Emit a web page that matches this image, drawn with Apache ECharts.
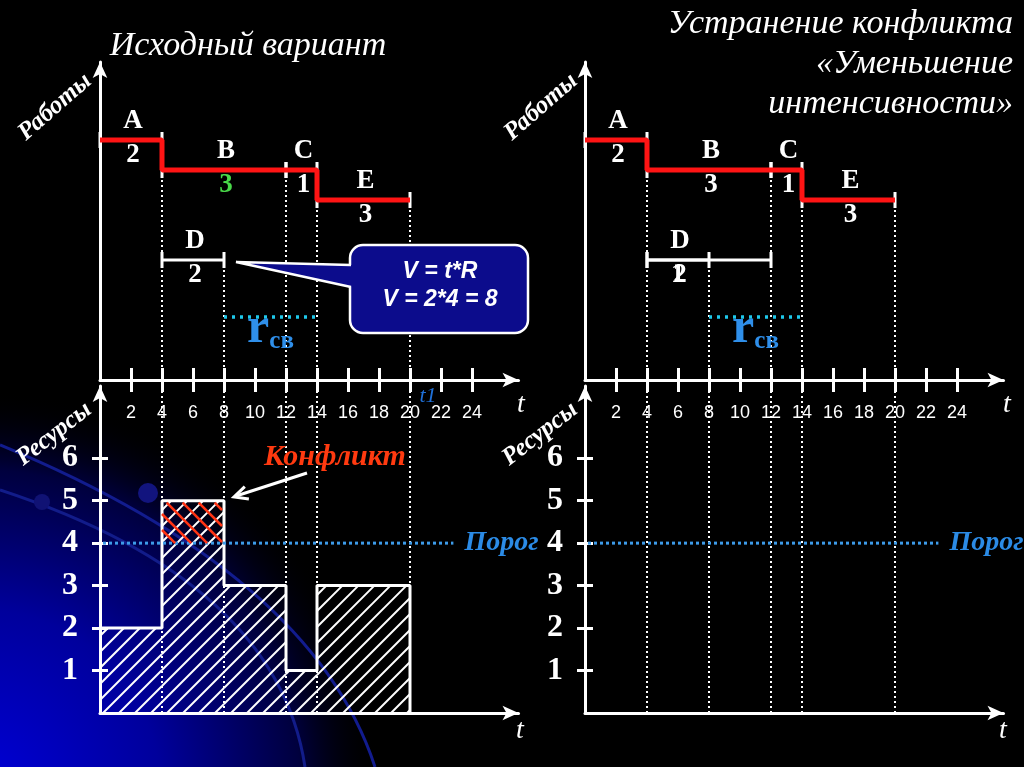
<!DOCTYPE html>
<html>
<head>
<meta charset="utf-8">
<script src="https://cdn.jsdelivr.net/npm/echarts@6.0.0/dist/echarts.min.js"></script>
<style>
html, body { margin: 0; padding: 0; background: #000; }
#chart { width: 1024px; height: 767px; }
</style>
</head>
<body>
<div id="chart"></div>
<script>
// time axis ticks (both charts)
const timeTicks = [2, 4, 6, 8, 10, 12, 14, 16, 18, 20, 22, 24];
const resourceTicks = [1, 2, 3, 4, 5, 6];

// works (Gantt rows)
const taskNames = ['A', 'B', 'C', 'D', 'E'];
const taskStart = [0, 4, 12, 4, 14];
const taskEnd = [4, 12, 14, 8, 20];
const taskRes = [2, 3, 1, 2, 3];
const taskRow = [8, 7, 7, 4, 6];
const criticalPath = ['A', 'B', 'C', 'E'];

// "reduce intensity": D gets 1 resource and lasts until 12
const reducedTask = 'D';
const reducedEnd = 12;
const reducedRes = 1;

// event lines: time and the row where the dotted line starts
const eventTimes = [4, 8, 12, 14, 20];
const eventRows = [7, 4, 7, 6, 6];

// resource profile of the original plan
const loadStart = [0, 4, 8, 12, 14];
const loadEnd = [4, 8, 12, 14, 20];
const loadValue = [2, 5, 3, 1, 3];

// threshold ("Порог")
const threshold = 4;
const thresholdEnd = 22.8;

// free resource interval r_св
const freeStart = 8;
const freeEnd = 14;
const freeRow = 2.1;

const X_MAX = 27, UP_MAX = 10.6, LOW_MAX = 7.7;
const W = 418.5;
const SERIF = '"Liberation Serif", "DejaVu Serif", serif';
const SANS = '"Liberation Sans", Arial, sans-serif';

const chart = echarts.init(document.getElementById('chart'));

function mainX(grid, withTicks) {
    return {
        type: 'value', gridIndex: grid, min: 0, max: X_MAX, position: 'bottom',
        axisLine: { show: true, onZero: false, lineStyle: { color: '#fff', width: 3 }, symbol: ['none', 'arrow'], symbolSize: [11, 16] },
        axisTick: withTicks ? { show: true, customValues: timeTicks, length: 12, lineStyle: { color: '#fff', width: 3 } } : { show: false },
        axisLabel: withTicks ? { show: true, customValues: timeTicks, margin: 24, color: '#fff', fontSize: 18, fontFamily: SANS } : { show: false },
        splitLine: { show: false }
    };
}
function innerX(grid) {
    return {
        type: 'value', gridIndex: grid, min: 0, max: X_MAX, position: 'bottom',
        axisLine: { show: false, onZero: false },
        axisTick: { show: true, inside: true, customValues: timeTicks, length: 12, lineStyle: { color: '#fff', width: 3 } },
        axisLabel: { show: false }, splitLine: { show: false }
    };
}
function upperY(grid) {
    return {
        type: 'value', gridIndex: grid, min: 0, max: UP_MAX, position: 'left',
        axisLine: { show: true, onZero: false, lineStyle: { color: '#fff', width: 3 }, symbol: ['none', 'arrow'], symbolSize: [11, 16] },
        axisTick: { show: false }, axisLabel: { show: false }, splitLine: { show: false }
    };
}
function lowerY(grid) {
    return {
        type: 'value', gridIndex: grid, min: 0, max: LOW_MAX, position: 'left',
        axisLine: { show: true, onZero: false, lineStyle: { color: '#fff', width: 3 }, symbol: ['none', 'arrow'], symbolSize: [11, 16] },
        axisTick: { show: true, customValues: resourceTicks, length: 8, lineStyle: { color: '#fff', width: 3 } },
        axisLabel: { show: true, customValues: resourceTicks, margin: 22, color: '#fff', fontSize: 32, fontWeight: 'bold', fontFamily: SERIF },
        splitLine: { show: false }
    };
}
function lowerYInner(grid) {
    return {
        type: 'value', gridIndex: grid, min: 0, max: LOW_MAX, position: 'left',
        axisLine: { show: false, onZero: false },
        axisTick: { show: true, inside: true, customValues: resourceTicks, length: 8, lineStyle: { color: '#fff', width: 3 } },
        axisLabel: { show: false }, splitLine: { show: false }
    };
}

const sides = [
    { up: { x: 0, y: 0 }, low: { x: 2, y: 1 } },
    { up: { x: 3, y: 3 }, low: { x: 5, y: 4 } }
];

const dotWhite = { stroke: '#fff', lineWidth: 2, lineDash: [2, 3] };

function segments(ax, data, style, z) {
    return {
        type: 'custom', xAxisIndex: ax.x, yAxisIndex: ax.y, z: z, silent: true, data: data,
        renderItem(params, api) {
            const a = api.coord([api.value(0), api.value(1)]);
            const b = api.coord([api.value(2), api.value(3)]);
            return { type: 'line', shape: { x1: a[0], y1: a[1], x2: b[0], y2: b[1] }, style: Object.assign({ fill: null }, style) };
        }
    };
}

function taskBars(ax, starts, ends, rows) {
    const st = { stroke: '#fff', lineWidth: 3 };
    return {
        type: 'custom', xAxisIndex: ax.x, yAxisIndex: ax.y, z: 3, silent: true,
        data: starts.map((s, i) => [s, ends[i], rows[i]]),
        renderItem(params, api) {
            const a = api.coord([api.value(0), api.value(2)]);
            const b = api.coord([api.value(1), api.value(2)]);
            return {
                type: 'group', children: [
                    { type: 'line', shape: { x1: a[0], y1: a[1], x2: b[0], y2: b[1] }, style: st },
                    { type: 'line', shape: { x1: a[0], y1: a[1] - 8, x2: a[0], y2: a[1] + 8 }, style: st },
                    { type: 'line', shape: { x1: b[0], y1: b[1] - 8, x2: b[0], y2: b[1] + 8 }, style: st }
                ]
            };
        }
    };
}

function taskLabels(ax, mids, rows, names, texts, colors) {
    return {
        type: 'custom', xAxisIndex: ax.x, yAxisIndex: ax.y, z: 6, silent: true,
        data: mids.map((m, i) => [m, rows[i]]),
        renderItem(params, api) {
            const i = params.dataIndex;
            const p = api.coord([api.value(0), api.value(1)]);
            const kids = [];
            if (names[i]) {
                kids.push({ type: 'text', x: p[0] + 2, y: p[1] - 19, style: { text: names[i], fill: '#fff', font: 'bold 27px ' + SERIF, align: 'center', verticalAlign: 'middle' } });
            }
            kids.push({ type: 'text', x: p[0] + 2, y: p[1] + 15, style: { text: String(texts[i]), fill: colors[i], font: 'bold 27px ' + SERIF, align: 'center', verticalAlign: 'middle' } });
            return { type: 'group', children: kids };
        }
    };
}

function criticalLine(ax) {
    const pts = [];
    criticalPath.forEach(n => {
        const i = taskNames.indexOf(n);
        pts.push([taskStart[i], taskRow[i]], [taskEnd[i], taskRow[i]]);
    });
    return {
        type: 'line', xAxisIndex: ax.x, yAxisIndex: ax.y, z: 5, silent: true, data: pts,
        symbol: 'none', lineStyle: { color: '#ff1414', width: 5 }, animation: false
    };
}

function freeResource(ax) {
    return {
        type: 'custom', xAxisIndex: ax.x, yAxisIndex: ax.y, z: 4, silent: true,
        data: [[freeStart, freeEnd, freeRow]],
        renderItem(params, api) {
            const a = api.coord([api.value(0), api.value(2)]);
            const b = api.coord([api.value(1), api.value(2)]);
            return {
                type: 'group', children: [
                    { type: 'line', shape: { x1: a[0], y1: a[1], x2: b[0], y2: b[1] }, style: { stroke: '#1ec8ea', lineWidth: 3.5, lineDash: [3, 5] } },
                    {
                        type: 'text', x: (a[0] + b[0]) / 2, y: a[1] + 37,
                        style: {
                            text: '{r|r}{s|св}', align: 'center', verticalAlign: 'bottom',
                            rich: {
                                r: { fill: '#2f8fea', fontSize: 50, fontWeight: 'bold', fontFamily: SERIF, verticalAlign: 'bottom' },
                                s: { fill: '#2f8fea', fontSize: 25, fontWeight: 'bold', fontFamily: SERIF, verticalAlign: 'bottom' }
                            }
                        }
                    }
                ]
            };
        }
    };
}

function hatch(x0, y0, x1, y1, step, dir, style) {
    const out = [];
    if (dir > 0) {
        for (let c = Math.ceil((x0 + y0) / step) * step; c <= x1 + y1; c += step) {
            const xa = Math.max(x0, c - y1), xb = Math.min(x1, c - y0);
            if (xb - xa < 0.5) continue;
            out.push({ type: 'line', shape: { x1: xa, y1: c - xa, x2: xb, y2: c - xb }, style: style });
        }
    } else {
        for (let c = Math.ceil((x0 - y1) / step) * step; c <= x1 - y0; c += step) {
            const xa = Math.max(x0, c + y0), xb = Math.min(x1, c + y1);
            if (xb - xa < 0.5) continue;
            out.push({ type: 'line', shape: { x1: xa, y1: xa - c, x2: xb, y2: xb - c }, style: style });
        }
    }
    return out;
}

function threshLine(ax) {
    return {
        type: 'custom', xAxisIndex: ax.x, yAxisIndex: ax.y, z: 7, silent: true,
        data: [[0, thresholdEnd, threshold]],
        renderItem(params, api) {
            const a = api.coord([api.value(0), api.value(2)]);
            const b = api.coord([api.value(1), api.value(2)]);
            return {
                type: 'group', children: [
                    { type: 'line', shape: { x1: a[0] + 3, y1: a[1], x2: b[0], y2: b[1] }, style: { stroke: '#3d9be9', lineWidth: 3, lineDash: [3, 3] } },
                    { type: 'text', x: b[0] + 11, y: b[1], style: { text: 'Порог', fill: '#2b8be6', font: 'italic bold 28px ' + SERIF, align: 'left', verticalAlign: 'middle' } }
                ]
            };
        }
    };
}

const series = [];
const mids = taskStart.map((s, i) => (s + taskEnd[i]) / 2);

[0, 1].forEach(side => {
    const ax = sides[side];
    // dotted event lines through both charts
    series.push(segments(ax.up, eventTimes.map((t, i) => [t, eventRows[i], t, 0]), dotWhite, 1));
    series.push(segments(ax.low, eventTimes.map(t => [t, 0, t, LOW_MAX]), dotWhite, 1));

    // gantt bars
    series.push(taskBars(ax.up, taskStart, taskEnd, taskRow));
    const resColors = taskNames.map(n => (side === 0 && n === 'B') ? '#49d849' : '#fff');
    series.push(criticalLine(ax.up));
    series.push(taskLabels(ax.up, mids, taskRow, taskNames, taskRes, resColors));
    series.push(freeResource(ax.up));
    if (side === 1) {
        const d = taskNames.indexOf(reducedTask);
        series.push(taskBars(ax.up, [taskStart[d]], [reducedEnd], [taskRow[d]]));
        series.push(taskLabels(ax.up, [mids[d] - 0.15], [taskRow[d]], [''], [reducedRes], ['#fff']));
    }

    // threshold
    series.push(threshLine(ax.low));
});

// hatched resource profile (left only)
const lowL = sides[0].low;
series.push({
    type: 'custom', xAxisIndex: lowL.x, yAxisIndex: lowL.y, z: 2, silent: true,
    data: loadStart.map((s, i) => [s, loadEnd[i], loadValue[i]]),
    renderItem(params, api) {
        const a = api.coord([api.value(0), api.value(2)]);
        const b = api.coord([api.value(1), 0]);
        return { type: 'group', children: hatch(a[0], a[1], b[0], b[1], 16, 1, { stroke: '#fff', lineWidth: 2 }) };
    }
});
const outlinePts = [];
loadStart.forEach((s, i) => outlinePts.push([s, loadValue[i]], [loadEnd[i], loadValue[i]]));
outlinePts.push([loadEnd[loadEnd.length - 1], 0]);
series.push({
    type: 'line', xAxisIndex: lowL.x, yAxisIndex: lowL.y, z: 3, silent: true, data: outlinePts,
    symbol: 'none', lineStyle: { color: '#fff', width: 3 }
});
series.push({
    type: 'custom', xAxisIndex: lowL.x, yAxisIndex: lowL.y, z: 8, silent: true,
    data: loadValue.map((v, i) => [loadStart[i], loadEnd[i], v]).filter(d => d[2] > threshold),
    renderItem(params, api) {
        const a = api.coord([api.value(0), api.value(2)]);
        const b = api.coord([api.value(1), threshold]);
        return { type: 'group', children: hatch(a[0], a[1] + 2, b[0] - 2, b[1], 16, -1, { stroke: '#ff3414', lineWidth: 2.5 }) };
    }
});

function arrowHead(x, y, fx, fy, len) {
    const ang = Math.atan2(fy - y, fx - x);
    const p1 = [x + len * Math.cos(ang + 0.45), y + len * Math.sin(ang + 0.45)];
    const p2 = [x + len * Math.cos(ang - 0.45), y + len * Math.sin(ang - 0.45)];
    return [p1, [x, y], p2];
}

function txt(text, x, y, font, fill, align, rot) {
    return {
        type: 'text', x: x, y: y, rotation: rot || 0, z: 20,
        style: { text: text, font: font, fill: fill, align: align || 'center', verticalAlign: 'middle' }
    };
}

const graphics = [
    // template background
    {
        type: 'rect', z: -10, silent: true, shape: { x: 0, y: 380, width: 520, height: 387 },
        style: {
            fill: new echarts.graphic.RadialGradient(-20, 790, 400, [
                { offset: 0, color: '#0000d8' },
                { offset: 0.45, color: '#00009c' },
                { offset: 0.8, color: '#00003e' },
                { offset: 1, color: 'rgba(0,0,0,0)' }
            ], true)
        }
    },
    { type: 'bezierCurve', z: -9, silent: true, shape: { x1: 0, y1: 445, x2: 375, y2: 767, cpx1: 312, cpy1: 574 }, style: { stroke: '#121c8e', lineWidth: 3, fill: null } },
    { type: 'bezierCurve', z: -9, silent: true, shape: { x1: 0, y1: 490, x2: 305, y2: 767, cpx1: 277, cpy1: 581 }, style: { stroke: '#121c8a', lineWidth: 3, fill: null } },
    { type: 'circle', z: -9, silent: true, shape: { cx: 148, cy: 493, r: 10 }, style: { fill: '#12147e' } },
    { type: 'circle', z: -9, silent: true, shape: { cx: 42, cy: 502, r: 8 }, style: { fill: '#101274' } },

    // titles
    txt('Исходный вариант', 248, 46, 'italic 34px ' + SERIF, '#fff'),
    txt('Устранение конфликта', 1013, 24, 'italic 34px ' + SERIF, '#fff', 'right'),
    txt('«Уменьшение', 1013, 64, 'italic 34px ' + SERIF, '#fff', 'right'),
    txt('интенсивности»', 1013, 104, 'italic 34px ' + SERIF, '#fff', 'right'),

    // axis names
    txt('Работы', 55, 107, 'italic bold 25px ' + SERIF, '#fff', 'center', 0.72),
    txt('Работы', 541, 107, 'italic bold 25px ' + SERIF, '#fff', 'center', 0.72),
    txt('Ресурсы', 54, 434, 'italic bold 25px ' + SERIF, '#fff', 'center', 0.66),
    txt('Ресурсы', 540, 434, 'italic bold 25px ' + SERIF, '#fff', 'center', 0.66),
    txt('t', 521, 405, 'italic 28px ' + SERIF, '#fff'),
    txt('t', 1007, 405, 'italic 28px ' + SERIF, '#fff'),
    txt('t', 520, 731, 'italic 28px ' + SERIF, '#fff'),
    txt('t', 1003, 731, 'italic 28px ' + SERIF, '#fff'),
    txt('t1', 428, 396, 'italic 22px ' + SERIF, '#1f70d8'),

    // callout
    { type: 'rect', z: 20, shape: { x: 350, y: 245, width: 178, height: 88, r: 13 }, style: { fill: '#0c0c8c', stroke: '#fff', lineWidth: 2.5 } },
    { type: 'polygon', z: 21, shape: { points: [[236, 262], [354, 265], [354, 287]] }, style: { fill: '#0c0c8c' } },
    { type: 'polyline', z: 22, shape: { points: [[351, 265], [236, 262], [351, 287]] }, style: { stroke: '#fff', lineWidth: 2.5, fill: null } },
    txt('V = t*R', 440, 272, 'italic bold 23px ' + SANS, '#fff'),
    txt('V = 2*4 = 8', 440, 300, 'italic bold 23px ' + SANS, '#fff'),

    // conflict
    txt('Конфликт', 335, 457, 'italic bold 30px ' + SERIF, '#ff3a10'),
    { type: 'line', z: 20, shape: { x1: 307, y1: 473, x2: 236, y2: 496 }, style: { stroke: '#fff', lineWidth: 3 } },
    { type: 'polyline', z: 20, shape: { points: arrowHead(234, 497, 307, 473, 15) }, style: { stroke: '#fff', lineWidth: 3, fill: null } }
];

chart.setOption({
    backgroundColor: '#000',
    animation: false,
    grid: [
        { left: 100, top: 62, width: W, height: 318, containLabel: false, outerBoundsMode: 'none' },
        { left: 100, top: 386, width: W, height: 327, containLabel: false, outerBoundsMode: 'none' },
        { left: 585, top: 62, width: W, height: 318, containLabel: false, outerBoundsMode: 'none' },
        { left: 585, top: 386, width: W, height: 327, containLabel: false, outerBoundsMode: 'none' }
    ],
    xAxis: [mainX(0, true), innerX(0), mainX(1, false), mainX(2, true), innerX(2), mainX(3, false)],
    yAxis: [upperY(0), lowerY(1), lowerYInner(1), upperY(2), lowerY(3), lowerYInner(3)],
    graphic: graphics,
    series: series
});
</script>
</body>
</html>
